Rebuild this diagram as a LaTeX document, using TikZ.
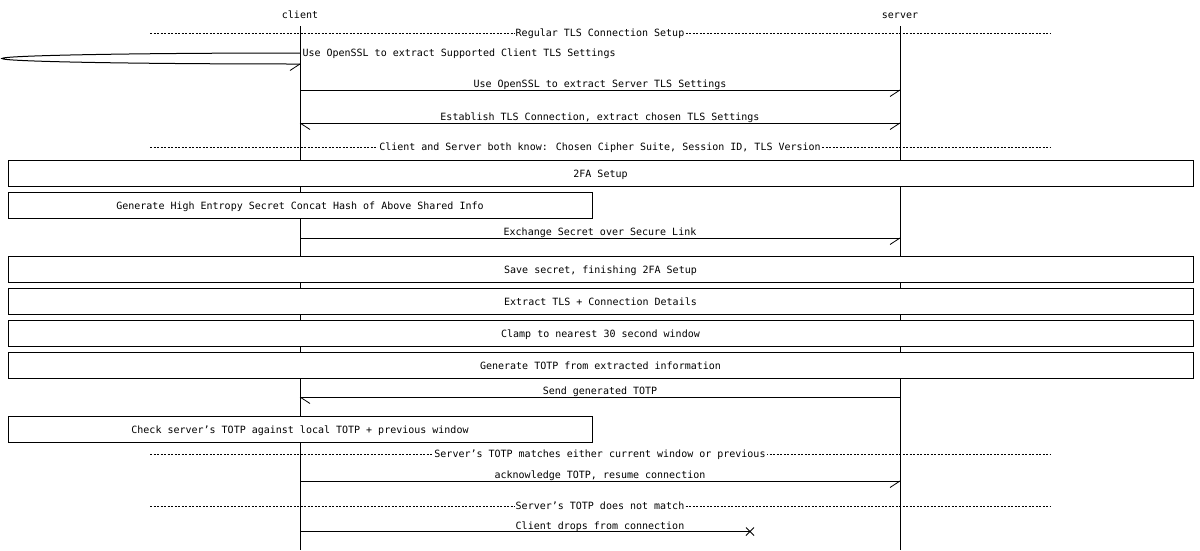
\documentclass[tikz,border=0pt]{standalone}
\usepackage{fontspec}
\setmainfont{DejaVu Sans Mono}
\begin{document}
\begin{tikzpicture}[x=1pt,y=-1pt,line width=1pt,
  every node/.style={font=\fontsize{10}{12}\selectfont,inner sep=0pt},
  lbl/.style={anchor=base},
  div/.style={dash pattern=on 2pt off 1.5pt,line width=0.8pt},
  divlbl/.style={anchor=base,fill=white,inner xsep=1pt,inner ysep=1pt},
  blk/.style={draw,fill=white,minimum height=26pt,text height=9pt,text depth=1pt},
  barb/.style={line width=0.8pt}]
\useasboundingbox (0,0) rectangle (1200,550);
% lifelines
\node[lbl] (client) at (300,18) {client};
\node[lbl] (server) at (900,18) {server};
\coordinate (ctop) at (300,26); \coordinate (cbot) at (300,550);
\coordinate (stop) at (900,26); \coordinate (sbot) at (900,550);
\draw (ctop) -- (cbot);
\draw (stop) -- (sbot);
% divider 1
\coordinate (d1l) at (150,33); \coordinate (d1r) at (1050,33);
\draw[div] (d1l) -- (d1r);
\node[divlbl] (d1) at (600,36.5) {Regular TLS Connection Setup};
% self loop
\coordinate (sl1) at (300,53);
\draw (sl1) arc[start angle=270,end angle=90,x radius=298,y radius=5.5] coordinate (sl2);
\draw[barb] (sl2) -- +(-10,6.5);
\node[anchor=base west] (m0) at (302,56.5) {Use OpenSSL to extract Supported Client TLS Settings};
% message 1
\coordinate (c1) at (300,90); \coordinate (s1) at (900,90);
\draw (c1) -- (s1); \draw[barb] (s1) -- +(-10,6.5);
\node[lbl] (m1) at (600,87.5) {Use OpenSSL to extract Server TLS Settings};
% message 2 (both ways)
\coordinate (c2) at (300,123); \coordinate (s2) at (900,123);
\draw (c2) -- (s2); \draw[barb] (s2) -- +(-10,6.5); \draw[barb] (c2) -- +(10,6.5);
\node[lbl] (m2) at (600,120.5) {Establish TLS Connection, extract chosen TLS Settings};
% divider 2
\coordinate (d2l) at (150,147); \coordinate (d2r) at (1050,147);
\draw[div] (d2l) -- (d2r);
\node[divlbl] (d2) at (600,150.5) {Client and Server both know: Chosen Cipher Suite, Session ID, TLS Version};
% boxes
\node[blk,minimum width=1185pt] (b1) at (600.5,173.5) {2FA Setup};
\node[blk,minimum width=584pt] (b2) at (300,205.5) {Generate High Entropy Secret Concat Hash of Above Shared Info};
% message 3
\coordinate (c3) at (300,238); \coordinate (s3) at (900,238);
\draw (c3) -- (s3); \draw[barb] (s3) -- +(-10,6.5);
\node[lbl] (m3) at (600,235.5) {Exchange Secret over Secure Link};
\node[blk,minimum width=1185pt] (b3) at (600.5,269.5) {Save secret, finishing 2FA Setup};
\node[blk,minimum width=1185pt] (b4) at (600.5,301.5) {Extract TLS + Connection Details};
\node[blk,minimum width=1185pt] (b5) at (600.5,333.5) {Clamp to nearest 30 second window};
\node[blk,minimum width=1185pt] (b6) at (600.5,365.5) {Generate TOTP from extracted information};
% message 4
\coordinate (c4) at (300,397); \coordinate (s4) at (900,397);
\draw (s4) -- (c4); \draw[barb] (c4) -- +(10,6.5);
\node[lbl] (m4) at (600,394.5) {Send generated TOTP};
\node[blk,minimum width=584pt] (b7) at (300,429.5) {Check server's TOTP against local TOTP + previous window};
% divider 3
\coordinate (d3l) at (150,454); \coordinate (d3r) at (1050,454);
\draw[div] (d3l) -- (d3r);
\node[divlbl] (d3) at (600,457.5) {Server's TOTP matches either current window or previous};
% message 5
\coordinate (c5) at (300,481); \coordinate (s5) at (900,481);
\draw (c5) -- (s5); \draw[barb] (s5) -- +(-10,6.5);
\node[lbl] (m5) at (600,478.5) {acknowledge TOTP, resume connection};
% divider 4
\coordinate (d4l) at (150,506); \coordinate (d4r) at (1050,506);
\draw[div] (d4l) -- (d4r);
\node[divlbl] (d4) at (600,509.5) {Server's TOTP does not match};
% message 6 (lost)
\coordinate (c6) at (300,531.5); \coordinate (x6) at (750,531.5);
\draw (c6) -- (x6);
\draw[barb] (x6) +(-4,-4) -- +(4,4) (x6) +(-4,4) -- +(4,-4);
\node[lbl] (m6) at (600,529) {Client drops from connection};
\end{tikzpicture}
\end{document}
